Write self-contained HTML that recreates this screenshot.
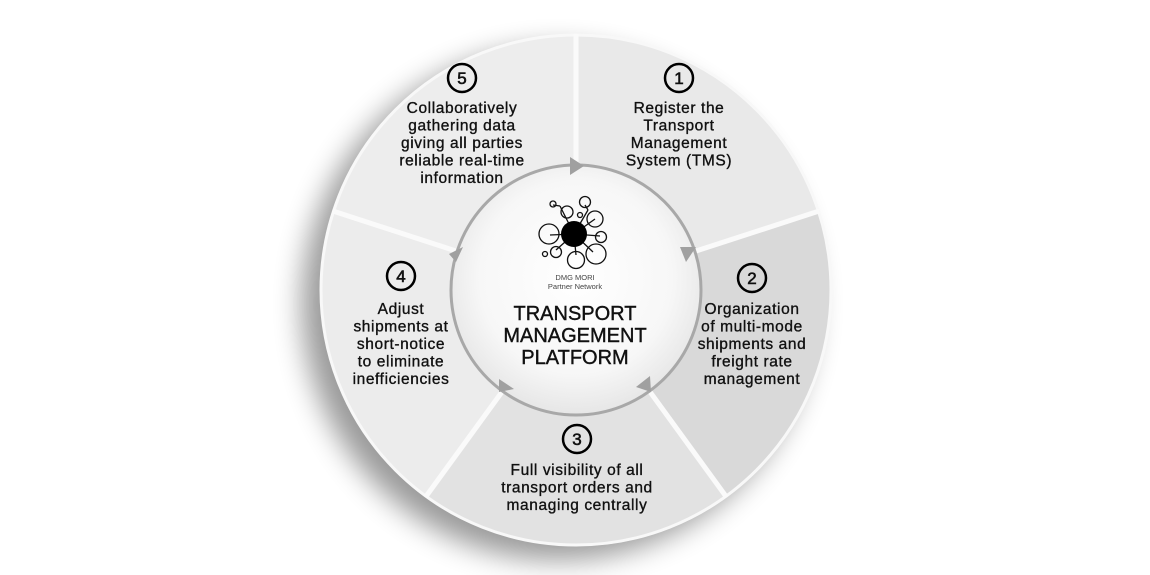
<!DOCTYPE html>
<html><head><meta charset="utf-8"><style>
html,body{margin:0;padding:0;background:#fff;width:1150px;height:575px;overflow:hidden}
svg{display:block}
text{font-family:"Liberation Sans",sans-serif;fill:#111}
</style></head><body>
<svg width="1150" height="575" viewBox="0 0 1150 575">
<defs>
<filter id="sh" x="-30%" y="-30%" width="160%" height="160%">
<feGaussianBlur in="SourceAlpha" stdDeviation="14"/>
<feOffset dx="-18" dy="14"/>
<feComponentTransfer><feFuncA type="linear" slope="0.4"/></feComponentTransfer>
<feMerge><feMergeNode/><feMergeNode in="SourceGraphic"/></feMerge>
</filter>
<radialGradient id="ig" cx="0.5" cy="0.45" r="0.55">
<stop offset="0" stop-color="#ffffff"/><stop offset="0.7" stop-color="#f7f7f7"/><stop offset="1" stop-color="#e6e6e6"/>
</radialGradient>
</defs>
<circle cx="576" cy="290" r="256" fill="#e8e8e8" filter="url(#sh)"/>
<g>
<path d="M576 290 L576 34 A256 256 0 0 1 819.5 210.9 Z" fill="#e9e9e9"/>
<path d="M576 290 L819.5 210.9 A256 256 0 0 1 726.5 497.1 Z" fill="#d9d9d9"/>
<path d="M576 290 L726.5 497.1 A256 256 0 0 1 425.5 497.1 Z" fill="#e2e2e2"/>
<path d="M576 290 L425.5 497.1 A256 256 0 0 1 332.5 210.9 Z" fill="#ececec"/>
<path d="M576 290 L332.5 210.9 A256 256 0 0 1 576 34 Z" fill="#ededed"/>
</g>
<circle cx="576" cy="290" r="255" fill="none" stroke="#f8f8f8" stroke-width="3"/>
<g stroke="#fafafa" stroke-width="5">
<line x1="576" y1="290" x2="576" y2="34"/>
<line x1="576" y1="290" x2="819.5" y2="210.9"/>
<line x1="576" y1="290" x2="726.5" y2="497.1"/>
<line x1="576" y1="290" x2="425.5" y2="497.1"/>
<line x1="576" y1="290" x2="332.5" y2="210.9"/>
</g>
<circle cx="576" cy="290" r="125" fill="url(#ig)" stroke="#a8a8a8" stroke-width="3"/>
<g fill="#a0a0a0">
<polygon points="570,157 570,175 584,166"/>
<polygon points="680,247 696,247 686,262" />
<polygon points="636,387 650,376 651,392"/>
<polygon points="499,379 514,389 499,392"/>
<polygon points="463,247 456,262 449,254"/>
</g>
<g fill="none" stroke="#111" stroke-width="1.3">
<line x1="574" y1="234" x2="560" y2="206"/><line x1="574" y1="234" x2="588" y2="210"/>
<line x1="574" y1="234" x2="595" y2="219"/><line x1="574" y1="234" x2="600" y2="236"/>
<line x1="574" y1="234" x2="593" y2="252"/><line x1="574" y1="234" x2="576" y2="255"/>
<line x1="574" y1="234" x2="556" y2="250"/><line x1="574" y1="234" x2="550" y2="235"/>
<line x1="560" y1="206" x2="553" y2="205"/><line x1="588" y1="210" x2="585" y2="205"/>
<circle cx="553" cy="204" r="3"/><circle cx="567" cy="212" r="6"/>
<circle cx="585" cy="202" r="5.5"/><circle cx="595" cy="219" r="8"/>
<circle cx="580" cy="215" r="2.5"/><circle cx="601" cy="237" r="5.5"/>
<circle cx="596" cy="254" r="10"/><circle cx="576" cy="260" r="8.5"/>
<circle cx="556" cy="252" r="5.5"/><circle cx="545" cy="254" r="2.5"/>
<circle cx="549" cy="234" r="10"/>
</g>
<circle cx="574" cy="234" r="13" fill="#000"/>
<text x="575" y="280" font-size="7.5" text-anchor="middle" style="fill:#444">DMG MORI</text>
<text x="575" y="289" font-size="7.5" text-anchor="middle" style="fill:#444">Partner Network</text>
<g font-size="20" text-anchor="middle" stroke="#111" stroke-width="0.4">
<text x="575" y="320">TRANSPORT</text>
<text x="575" y="342">MANAGEMENT</text>
<text x="575" y="364">PLATFORM</text>
</g>
<g fill="none" stroke="#000" stroke-width="2.5">
<circle cx="462" cy="78" r="14"/><circle cx="679" cy="78" r="14"/>
<circle cx="401" cy="276" r="14"/><circle cx="752" cy="278" r="14"/>
<circle cx="577" cy="439" r="14"/>
</g>
<g font-size="17" text-anchor="middle" stroke="#111" stroke-width="0.6">
<text x="462" y="84">5</text><text x="679" y="84">1</text>
<text x="401" y="282">4</text><text x="752" y="284">2</text>
<text x="577" y="445">3</text>
</g>
<g font-size="15.5" text-anchor="middle" letter-spacing="0.6" stroke="#111" stroke-width="0.35">
<text x="462" y="113">Collaboratively</text>
<text x="462" y="130.5">gathering data</text>
<text x="462" y="148">giving all parties</text>
<text x="462" y="165.5">reliable real-time</text>
<text x="462" y="183">information</text>
<text x="679" y="113">Register the</text>
<text x="679" y="130.5">Transport</text>
<text x="679" y="148">Management</text>
<text x="679" y="165.5">System (TMS)</text>
<text x="401" y="314">Adjust</text>
<text x="401" y="331.5">shipments at</text>
<text x="401" y="349">short-notice</text>
<text x="401" y="366.5">to eliminate</text>
<text x="401" y="384">inefficiencies</text>
<text x="752" y="314">Organization</text>
<text x="752" y="331.5">of multi-mode</text>
<text x="752" y="349">shipments and</text>
<text x="752" y="366.5">freight rate</text>
<text x="752" y="384">management</text>
<text x="577" y="475">Full visibility of all</text>
<text x="577" y="492.5">transport orders and</text>
<text x="577" y="510">managing centrally</text>
</g>
</svg>
</body></html>
